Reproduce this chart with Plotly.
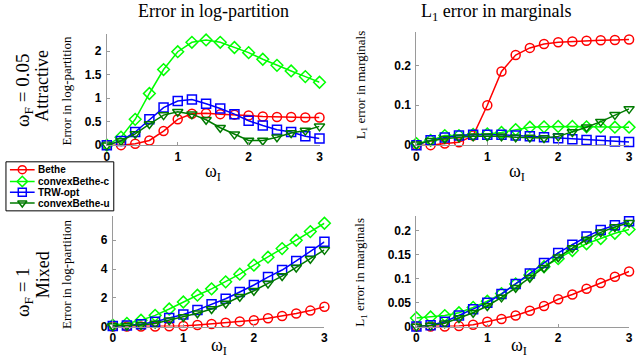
import plotly.graph_objects as go

x_vals = [0, 0.2, 0.4, 0.6, 0.8, 1.0, 1.2, 1.4, 1.6, 1.8, 2.0, 2.2, 2.4, 2.6, 2.8, 3.0]
series_names = ["Bethe", "convexBethe-c", "TRW-opt", "convexBethe-u"]

# Top-left: omega_F = 0.05 attractive, error in log-partition
tl_bethe = [0, 0, 0.03, 0.1, 0.3, 0.55, 0.67, 0.68, 0.66, 0.65, 0.63, 0.61, 0.6, 0.6, 0.59, 0.59]
tl_cbc = [0, 0.17, 0.55, 1.1, 1.61, 1.99, 2.19, 2.24, 2.19, 2.08, 1.97, 1.83, 1.7, 1.58, 1.46, 1.34]
tl_trw = [0, 0.09, 0.28, 0.55, 0.8, 0.94, 0.97, 0.88, 0.78, 0.66, 0.52, 0.42, 0.33, 0.28, 0.19, 0.14]
tl_cbu = [0, 0.09, 0.24, 0.45, 0.64, 0.71, 0.66, 0.54, 0.37, 0.23, 0.1, 0.1, 0.17, 0.26, 0.31, 0.4]

# Top-right: L1 error in marginals
tr_bethe = [0, 0, 0.004, 0.007, 0.024, 0.1, 0.185, 0.226, 0.244, 0.254, 0.258, 0.26, 0.262, 0.263, 0.264, 0.265]
tr_cbc = [0.004, 0.012, 0.024, 0.024, 0.027, 0.028, 0.032, 0.039, 0.045, 0.046, 0.047, 0.047, 0.046, 0.046, 0.045, 0.045]
tr_trw = [0, 0.012, 0.019, 0.024, 0.026, 0.026, 0.026, 0.024, 0.022, 0.02, 0.017, 0.015, 0.013, 0.011, 0.009, 0.008]
tr_cbu = [0.002, 0.011, 0.016, 0.02, 0.022, 0.022, 0.022, 0.02, 0.019, 0.018, 0.022, 0.033, 0.045, 0.059, 0.076, 0.091]

# Bottom-left: omega_F = 1 mixed, error in log-partition
bl_bethe = [0, 0, 0, 0, 0.02, 0.04, 0.11, 0.18, 0.27, 0.36, 0.44, 0.58, 0.73, 0.91, 1.11, 1.38]
bl_cbc = [0.1, 0.22, 0.44, 0.78, 1.22, 1.71, 2.18, 2.62, 3.11, 3.64, 4.27, 4.82, 5.42, 6.0, 6.6, 7.18]
bl_trw = [0.04, 0.07, 0.16, 0.33, 0.6, 0.84, 1.16, 1.56, 1.93, 2.4, 2.89, 3.44, 3.93, 4.56, 5.2, 5.89]
bl_cbu = [0.04, 0.06, 0.11, 0.22, 0.44, 0.67, 0.93, 1.22, 1.6, 2.07, 2.49, 3.0, 3.51, 4.11, 4.71, 5.33]

# Bottom-right: L1 error in marginals
br_bethe = [0, 0, 0, 0.001, 0.004, 0.01, 0.016, 0.023, 0.033, 0.043, 0.057, 0.067, 0.079, 0.091, 0.104, 0.115]
br_cbc = [0.018, 0.02, 0.023, 0.029, 0.04, 0.053, 0.069, 0.089, 0.108, 0.125, 0.142, 0.159, 0.173, 0.184, 0.195, 0.203]
br_trw = [0, 0.003, 0.01, 0.023, 0.036, 0.05, 0.068, 0.089, 0.111, 0.133, 0.154, 0.171, 0.188, 0.202, 0.212, 0.22]
br_cbu = [0, 0.002, 0.007, 0.018, 0.029, 0.043, 0.061, 0.081, 0.102, 0.123, 0.145, 0.164, 0.182, 0.197, 0.208, 0.217]

colors = ["#ff0000", "#00ff00", "#0000ff", "#007a00"]
symbols = ["circle-open", "diamond-open", "square-open", "triangle-down-open"]

W, H = 640, 363
def px(xp):
    return xp / W
def py(yp):
    return 1 - yp / H

panels = [
    ("x", "y", [tl_bethe, tl_cbc, tl_trw, tl_cbu]),
    ("x2", "y2", [tr_bethe, tr_cbc, tr_trw, tr_cbu]),
    ("x3", "y3", [bl_bethe, bl_cbc, bl_trw, bl_cbu]),
    ("x4", "y4", [br_bethe, br_cbc, br_trw, br_cbu]),
]

fig = go.Figure()
for xa, ya, data in panels:
    for i, (name, vals) in enumerate(zip(series_names, data)):
        fig.add_trace(go.Scatter(
            x=x_vals, y=vals, name=name, xaxis=xa, yaxis=ya,
            mode="lines+markers", showlegend=False, cliponaxis=False,
            line=dict(color=colors[i], width=1.5),
            marker=dict(symbol=symbols[i], size=9, color=colors[i], line=dict(width=1.5, color=colors[i])),
        ))

# Compact legend drawn on a hidden axis (plotly's legend rows are too tall)
leg_rows = [8, 20, 31, 42]
for i, name in enumerate(series_names):
    yr = leg_rows[i]
    fig.add_trace(go.Scatter(
        x=[4, 16.5, 29], y=[yr, yr, yr], xaxis="x5", yaxis="y5",
        mode="lines", showlegend=False, hoverinfo="skip", cliponaxis=False,
        line=dict(color=colors[i], width=1.5)))
    fig.add_trace(go.Scatter(
        x=[16.5], y=[yr], xaxis="x5", yaxis="y5",
        mode="markers", showlegend=False, hoverinfo="skip", cliponaxis=False,
        marker=dict(symbol=symbols[i], size=8, color=colors[i], line=dict(width=1.5, color=colors[i]))))
    fig.add_annotation(text=name, x=30, y=yr, xref="x5", yref="y5", showarrow=False,
                       xanchor="left", yanchor="middle",
                       font=dict(family="Liberation Sans", size=10, color="black", weight="bold"))

tickfont = dict(family="Liberation Sans", size=12, color="black", weight="bold")
def xaxis(dom, anchor):
    return dict(domain=dom, anchor=anchor, range=[0, 3], tickvals=[0, 1, 2, 3],
                showline=True, linecolor="#9a9a9a", linewidth=1, ticks="inside", ticklen=3,
                tickcolor="#9a9a9a", showgrid=False, zeroline=False, tickfont=tickfont, ticklabelstandoff=0)
def yaxis(dom, anchor, rng, tv, tt):
    return dict(domain=dom, anchor=anchor, range=rng, tickvals=tv, ticktext=tt,
                showline=True, linecolor="#9a9a9a", linewidth=1, ticks="inside", ticklen=3,
                tickcolor="#9a9a9a", showgrid=False, zeroline=False, tickfont=tickfont, ticklabelstandoff=2)

hidden = dict(visible=False, showgrid=False, zeroline=False, fixedrange=True)
fig.update_layout(
    width=W, height=H, margin=dict(l=0, r=0, t=0, b=0),
    paper_bgcolor="white", plot_bgcolor="white",
    xaxis=xaxis([px(105), px(320)], "y"),
    yaxis=yaxis([py(148), py(35)], "x", [0, 2.36], [0, 0.5, 1, 1.5, 2], ["0", "0.5", "1", "1.5", "2"]),
    xaxis2=xaxis([px(418), px(633)], "y2"),
    yaxis2=yaxis([py(148), py(33)], "x2", [0, 0.283], [0, 0.1, 0.2], ["0", "0.1", "0.2"]),
    xaxis3=xaxis([px(111), px(325)], "y3"),
    yaxis3=yaxis([py(333), py(220)], "x3", [0, 7.7], [0, 2, 4, 6], ["0", "2", "4", "6"]),
    xaxis4=xaxis([px(418), px(633)], "y4"),
    yaxis4=yaxis([py(333), py(220)], "x4", [0, 0.2316], [0, 0.05, 0.1, 0.15, 0.2], ["0", "0.05", "0.1", "0.15", "0.2"]),
    xaxis5=dict(domain=[px(3), px(112)], anchor="y5", range=[0, 109], **hidden),
    yaxis5=dict(domain=[py(215), py(165)], anchor="x5", range=[50, 0], **hidden),
    showlegend=False,
)
fig.add_shape(type="rect", xref="paper", yref="paper", x0=px(3), x1=px(112), y0=py(215), y1=py(165),
              line=dict(color="black", width=1), fillcolor="rgba(0,0,0,0)", layer="above")

serif = "Liberation Serif"
def ann(text, x, y, size, angle=0):
    fig.add_annotation(text=text, x=px(x), y=py(y), xref="paper", yref="paper",
                       showarrow=False, textangle=angle, xanchor="center", yanchor="middle",
                       font=dict(family=serif, size=size, color="black"))

ann("Error in log-partition", 213, 11, 18)
ann("L<sub>1</sub> error in marginals", 498, 13, 18)
ann("ω<sub>F</sub> = 0.05", 21, 92, 19, -90)
ann("Attractive", 40, 88, 18, -90)
ann("ω<sub>F</sub> = 1", 21, 298, 19, -90)
ann("Mixed", 40, 280, 18, -90)
ann("Error in log-partition", 64, 92, 13, -90)
ann("L<sub>1</sub> error in marginals", 362, 87, 13, -90)
ann("Error in log-partition", 64, 279, 13, -90)
ann("L<sub>1</sub> error in marginals", 362, 278, 13, -90)
ann("ω<sub>I</sub>", 212, 176, 18)
ann("ω<sub>I</sub>", 520, 176, 18)
ann("ω<sub>I</sub>", 218, 353, 18)
ann("ω<sub>I</sub>", 522, 353, 18)

fig.write_html("out.html", config={"displayModeBar": False},
               post_script="document.body.style.margin='0px';document.body.style.overflow='hidden';")
